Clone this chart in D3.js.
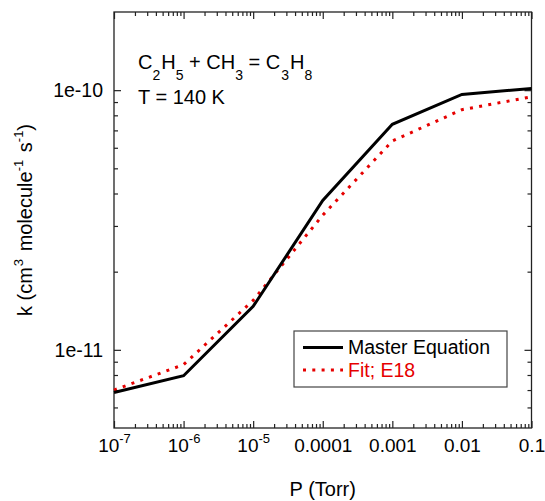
<!DOCTYPE html>
<html>
<head>
<meta charset="utf-8">
<script src="https://cdn.jsdelivr.net/npm/d3@7"></script>
<style>
  body { margin: 0; background: #fff; }
  svg { display: block; font-family: "Liberation Sans", Arial, Helvetica, sans-serif; }
</style>
</head>
<body>
<div id="vis"></div>
<script>
// pressures (Torr) and rate constants
let pressure = [1e-7, 1e-6, 1e-5, 1e-4, 1e-3, 1e-2, 1e-1];
let masterEq = [6.85e-12, 7.95e-12, 1.47e-11, 3.76e-11, 7.39e-11, 9.63e-11, 1.015e-10];
let fitE18 = [7.0e-12, 8.77e-12, 1.55e-11, 3.30e-11, 6.37e-11, 8.41e-11, 9.43e-11];

let seriesNames = ['Master Equation', 'Fit; E18'];

let xMajor = [1e-7, 1e-6, 1e-5, 1e-4, 1e-3, 1e-2, 1e-1];
let xTickLabels = ['10^-7', '10^-6', '10^-5', '0.0001', '0.001', '0.01', '0.1'];
let yMajor = [1e-11, 1e-10];
let yTickLabels = ['1e-11', '1e-10'];

let margin = { top: 12, left: 114, right: 13.5, bottom: 73 },
    width = 545 - margin.left - margin.right,
    height = 501 - margin.top - margin.bottom;

let svg = d3.select('#vis')
    .append('svg')
    .attr('width', 545)
    .attr('height', 501);

let g = svg.append('g')
    .attr('transform', `translate(${margin.left},${margin.top})`);

let x = d3.scaleLog().domain([1e-7, 1e-1]).range([0, width]);
let y = d3.scaleLog().domain([5e-12, 2e-10]).range([height, 0]);

// minor ticks: 2..9 in each decade that falls inside the domain
function minors(scale) {
    let [a, b] = scale.domain();
    let out = [];
    for (let e = Math.floor(Math.log10(a)); e <= Math.ceil(Math.log10(b)); e++) {
        for (let m = 2; m <= 9; m++) {
            let v = m * Math.pow(10, e);
            if (v > a * 1.0001 && v < b * 0.9999) out.push(v);
        }
    }
    return out;
}
let xMinor = minors(x);
let yMinor = minors(y);

let axisColor = '#222';

function styleAxis(sel) {
    sel.select('.domain').remove();
    sel.selectAll('line').attr('stroke', axisColor).attr('stroke-width', 1.2);
}

// bottom
g.append('g').attr('transform', `translate(0,${height})`)
    .call(d3.axisBottom(x).tickValues(xMinor).tickSize(-4).tickFormat('')).call(styleAxis);
let xb = g.append('g').attr('transform', `translate(0,${height})`)
    .call(d3.axisBottom(x).tickValues(xMajor).tickSize(-7).tickFormat('')).call(styleAxis);
// top
g.append('g').call(d3.axisTop(x).tickValues(xMinor).tickSize(-4).tickFormat('')).call(styleAxis);
g.append('g').call(d3.axisTop(x).tickValues(xMajor).tickSize(-7).tickFormat('')).call(styleAxis);
// left
g.append('g').call(d3.axisLeft(y).tickValues(yMinor).tickSize(-4).tickFormat('')).call(styleAxis);
let yl = g.append('g').call(d3.axisLeft(y).tickValues(yMajor).tickSize(-7).tickFormat('')).call(styleAxis);
// right
g.append('g').attr('transform', `translate(${width},0)`)
    .call(d3.axisRight(y).tickValues(yMinor).tickSize(-4).tickFormat('')).call(styleAxis);
g.append('g').attr('transform', `translate(${width},0)`)
    .call(d3.axisRight(y).tickValues(yMajor).tickSize(-7).tickFormat('')).call(styleAxis);

// x tick labels with superscripts
xb.selectAll('.tick').each(function(d, i) {
    let parts = xTickLabels[i].split('^');
    let t = d3.select(this).append('text')
        .attr('y', 23.7)
        .attr('fill', '#000')
        .attr('font-size', 19)
        .attr('text-anchor', 'middle');
    t.append('tspan').text(parts[0]);
    if (parts[1]) {
        t.append('tspan').attr('font-size', 13).attr('dy', -9).text(parts[1]);
    }
});

yl.selectAll('.tick').each(function(d, i) {
    d3.select(this).append('text')
        .attr('x', -11)
        .attr('dy', '0.33em')
        .attr('fill', '#000')
        .attr('font-size', 19.5)
        .attr('text-anchor', 'end')
        .text(yTickLabels[i]);
});

// frame
g.append('rect')
    .attr('width', width).attr('height', height)
    .attr('fill', 'none').attr('stroke', axisColor).attr('stroke-width', 1.3);

// data lines
let line = d3.line()
    .x(d => x(d[0]))
    .y(d => y(d[1]));

g.append('path')
    .datum(d3.zip(pressure, fitE18))
    .attr('d', line)
    .attr('fill', 'none')
    .attr('stroke', '#e60000')
    .attr('stroke-width', 3)
    .attr('stroke-dasharray', '3 6.3');

g.append('path')
    .datum(d3.zip(pressure, masterEq))
    .attr('d', line)
    .attr('fill', 'none')
    .attr('stroke', '#000')
    .attr('stroke-width', 3);

// annotation
let ann = svg.append('text').attr('x', 138).attr('y', 69).attr('font-size', 20).attr('fill', '#000');
ann.append('tspan').text('C');
ann.append('tspan').attr('font-size', 14).attr('dy', 11).text('2');
ann.append('tspan').attr('dy', -11).attr('dx', 1).text('H');
ann.append('tspan').attr('font-size', 14).attr('dy', 11).text('5');
ann.append('tspan').attr('dy', -11).text(' + CH');
ann.append('tspan').attr('font-size', 14).attr('dy', 11).text('3');
ann.append('tspan').attr('dy', -11).text(' = C');
ann.append('tspan').attr('font-size', 14).attr('dy', 11).attr('dx', 1).text('3');
ann.append('tspan').attr('dy', -11).attr('dx', 1).text('H');
ann.append('tspan').attr('font-size', 14).attr('dy', 11).text('8');

svg.append('text').attr('x', 138).attr('y', 104).attr('font-size', 20).attr('fill', '#000')
    .text('T = 140 K');

// axis titles
svg.append('text')
    .attr('x', margin.left + width / 2).attr('y', 496)
    .attr('text-anchor', 'middle').attr('font-size', 20).attr('fill', '#000')
    .text('P (Torr)');

let yt = svg.append('text')
    .attr('transform', `translate(32,${margin.top + height / 2}) rotate(-90)`)
    .attr('text-anchor', 'middle').attr('font-size', 20).attr('fill', '#000');
yt.append('tspan').text('k (cm');
yt.append('tspan').attr('font-size', 13).attr('dy', -9).attr('dx', 1).text('3');
yt.append('tspan').attr('dy', 9).attr('dx', 2).text(' molecule');
yt.append('tspan').attr('font-size', 13).attr('dy', -9).text('-1');
yt.append('tspan').attr('dy', 9).attr('dx', 2).text(' s');
yt.append('tspan').attr('font-size', 13).attr('dy', -9).text('-1');
yt.append('tspan').attr('dy', 9).text(')');

// legend
let legend = svg.append('g');
legend.append('rect')
    .attr('x', 294).attr('y', 331).attr('width', 213).attr('height', 56)
    .attr('fill', '#fff').attr('stroke', '#444').attr('stroke-width', 1.2);
let legColors = ['#000', '#e60000'];
let legDash = [null, '3 6.3'];
seriesNames.forEach((name, i) => {
    let yy = 347.5 + i * 22.5;
    legend.append('line')
        .attr('x1', 303).attr('x2', 343).attr('y1', yy).attr('y2', yy)
        .attr('stroke', legColors[i]).attr('stroke-width', 3)
        .attr('stroke-dasharray', legDash[i]);
    legend.append('text')
        .attr('x', 348).attr('y', yy + 6.6)
        .attr('font-size', 19.5).attr('fill', legColors[i])
        .text(name);
});
</script>
</body>
</html>
